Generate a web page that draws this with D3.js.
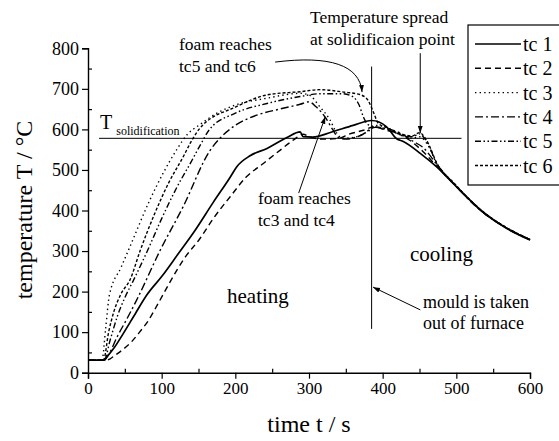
<!DOCTYPE html>
<html>
<head>
<meta charset="utf-8">
<script src="https://cdn.jsdelivr.net/npm/d3@7"></script>
<style>
  body { margin: 0; background: #fff; }
  svg { font-family: "Liberation Serif", "Times New Roman", serif; }
</style>
</head>
<body>
<div id="wrapper"></div>
<script>
// thermocouple readings [time s, temperature °C]
const tc1 = [[0,31],[21,31],[25,38],[35,60],[48,97],[65,148],[80,192],[100,237],[122,292],[145,350],[170,420],[193,482],[202,508],[220,535],[243,553],[270,580],[288,594],[292,582],[305,581],[330,593],[360,610],[385,622],[405,607],[419,577],[428,570],[451,541],[473,508],[496,466],[537,395],[568,356],[600,327]];
const tc2 = [[0,31],[24,31],[30,34],[36,42],[48,58],[59,76],[70,100],[81,126],[95,170],[113,229],[130,280],[152,331],[170,380],[193,434],[215,483],[238,516],[261,549],[279,574],[292,588],[300,582],[320,576],[340,578],[354,588],[374,598],[388,606],[405,598],[420,590],[435,575],[455,545],[473,510],[496,467],[537,394],[568,357],[600,328]];
const tc3 = [[0,31],[19,31],[24,110],[29,191],[45,260],[57,311],[84,426],[102,492],[120,549],[135,588],[152,612],[175,640],[200,660],[243,677],[288,689],[300,685],[315,655],[328,625],[338,590],[345,578],[360,580],[380,595],[392,610],[405,605],[420,590],[440,578],[450,582],[460,565],[475,510],[496,468],[537,395],[568,357],[600,328]];
const tc4 = [[0,31],[22,31],[28,45],[40,90],[52,130],[66,179],[98,302],[129,409],[166,549],[179,578],[200,610],[229,635],[260,650],[288,662],[300,668],[310,655],[322,630],[332,600],[340,580],[350,576],[370,585],[390,605],[410,600],[425,590],[440,572],[455,555],[475,510],[496,467],[537,394],[568,357],[600,328]];
const tc5 = [[0,31],[22,31],[30,80],[40,140],[50,185],[62,229],[81,302],[100,380],[120,455],[140,520],[152,560],[165,600],[200,640],[243,664],[288,681],[315,688],[345,688],[360,680],[368,660],[374,630],[380,612],[395,605],[410,598],[425,586],[440,582],[450,589],[458,575],[475,511],[496,467],[537,395],[568,357],[600,328]];
const tc6 = [[0,31],[21,31],[28,100],[35,150],[45,195],[57,229],[71,302],[90,390],[110,470],[130,535],[140,570],[152,603],[200,655],[243,685],[288,693],[315,698],[347,692],[369,686],[380,672],[388,640],[394,615],[405,605],[420,592],[440,584],[450,592],[458,578],[475,512],[496,469],[537,396],[568,358],[600,329]];

const seriesNames = ["tc 1","tc 2","tc 3","tc 4","tc 5","tc 6"];
const seriesData = [tc1, tc2, tc3, tc4, tc5, tc6];
const dashes = [null, "6,4", "1.4,3.2", "8,3,2,3", "6,2.5,1.5,2.5,1.5,2.5", "3,2"];

const xTicks = [0,100,200,300,400,500,600];
const yTicks = [0,100,200,300,400,500,600,700,800];
const tSolid = 578;     // solidification temperature
const tOut = 385;       // mould taken out of furnace

var svg = d3.select("#wrapper").append("svg").attr("width", 559).attr("height", 441);

var x = d3.scaleLinear().domain([0, 600]).range([88, 530]);
var y = d3.scaleLinear().domain([0, 800]).range([372.7, 48.3]);

// axes: major ticks out, minor ticks in
svg.append("g").attr("class", "xax").attr("transform", "translate(0," + y(0) + ")")
  .call(d3.axisBottom(x).tickValues(xTicks).tickSize(6).tickPadding(3).tickFormat(d3.format("d")));
svg.append("g").attr("transform", "translate(0," + y(0) + ")")
  .call(d3.axisBottom(x).tickValues(d3.range(50, 600, 100)).tickSize(-4).tickFormat(""))
  .select(".domain").remove();
svg.append("g").attr("class", "yax").attr("transform", "translate(" + x(0) + ",0)")
  .call(d3.axisLeft(y).tickValues(yTicks).tickSize(6).tickPadding(3).tickFormat(d3.format("d")));
svg.append("g").attr("transform", "translate(" + x(0) + ",0)")
  .call(d3.axisLeft(y).tickValues(d3.range(50, 800, 100)).tickSize(-4).tickFormat(""))
  .select(".domain").remove();

svg.selectAll(".domain").attr("stroke", "#000").attr("stroke-width", 1.4);
svg.selectAll(".tick line").attr("stroke", "#000").attr("stroke-width", 1.2);
svg.selectAll(".tick text").style("font-family", "Liberation Serif").attr("fill", "#000");
svg.selectAll(".xax .tick text").style("font-size", "17px");
svg.selectAll(".yax .tick text").style("font-size", "18px");

// axis titles
svg.append("text").attr("transform", "translate(32," + 210 + ") rotate(-90)")
  .attr("text-anchor", "middle").style("font-size", "24px").text("temperature T / °C");
svg.append("text").attr("x", 309).attr("y", 432)
  .attr("text-anchor", "middle").style("font-size", "24px").text("time t / s");

// reference lines
svg.append("line").attr("x1", x(15)).attr("x2", x(507)).attr("y1", y(tSolid)).attr("y2", y(tSolid))
  .attr("stroke", "#000").attr("stroke-width", 1);
svg.append("line").attr("x1", x(tOut)).attr("x2", x(tOut)).attr("y1", y(108)).attr("y2", y(755))
  .attr("stroke", "#000").attr("stroke-width", 1);

// curves
var line = d3.line().x(d => x(d[0])).y(d => y(d[1])).curve(d3.curveMonotoneX);
svg.selectAll(".curve").data(seriesData).enter().append("path")
  .attr("class", "curve")
  .attr("d", line)
  .attr("fill", "none")
  .attr("stroke", "#000")
  .attr("stroke-width", (d, i) => i === 0 ? 1.7 : 1.4)
  .attr("stroke-dasharray", (d, i) => dashes[i]);

// legend
var leg = svg.append("g");
leg.append("rect").attr("x", 468).attr("y", 25).attr("width", 96).attr("height", 160)
  .attr("fill", "#fff").attr("stroke", "#000").attr("stroke-width", 1.2);
seriesNames.forEach(function(n, i) {
  var ly = 44 + i * 24.3;
  leg.append("line").attr("x1", 475).attr("x2", 521).attr("y1", ly).attr("y2", ly)
    .attr("stroke", "#000").attr("stroke-width", i === 0 ? 1.7 : 1.4)
    .attr("stroke-dasharray", dashes[i]);
  leg.append("text").attr("x", 523).attr("y", ly + 7).style("font-size", "20px").text(n);
});

// annotations
svg.append("defs").append("marker").attr("id", "arr")
  .attr("viewBox", "0 0 10 10").attr("refX", 10).attr("refY", 5)
  .attr("markerWidth", 7).attr("markerHeight", 7).attr("orient", "auto-start-reverse")
  .append("path").attr("d", "M0,1.5 L10,5 L0,8.5 Z").attr("fill", "#000");

function arrow(p) {
  svg.append("path").attr("d", p).attr("fill", "none").attr("stroke", "#000")
    .attr("stroke-width", 1).attr("marker-end", "url(#arr)");
}
arrow("M" + x(254) + "," + y(766) + " C" + x(328) + "," + y(783) + " " + x(369) + "," + y(759) + " " + x(372) + "," + y(692));
arrow("M" + x(451) + "," + y(788) + " L" + x(451) + "," + y(591));
arrow("M" + x(286) + "," + y(443) + " L" + x(322) + "," + y(631));
arrow("M" + x(451) + "," + y(155) + " L" + x(387) + "," + y(211));

function label(tx, ty, s, size) {
  svg.append("text").attr("x", tx).attr("y", ty).style("font-size", size + "px").text(s);
}
label(179, 50, "foam reaches", 17.5);
label(179, 72, "tc5 and tc6", 17.5);
label(310, 23, "Temperature spread", 17.5);
label(310, 45, "at solidificaion point", 17.5);
label(258, 204, "foam reaches", 17.5);
label(258, 226, "tc3 and tc4", 17.5);
label(227, 303, "heating", 21);
label(410, 261, "cooling", 21);
label(423, 308, "mould is taken", 18);
label(423, 329, "out of furnace", 18);

var ts = svg.append("text").attr("x", 100).attr("y", 129);
ts.append("tspan").style("font-size", "20px").text("T");
ts.append("tspan").attr("dx", 4).attr("dy", 6).style("font-size", "12px").text("solidification");
</script>
</body>
</html>
